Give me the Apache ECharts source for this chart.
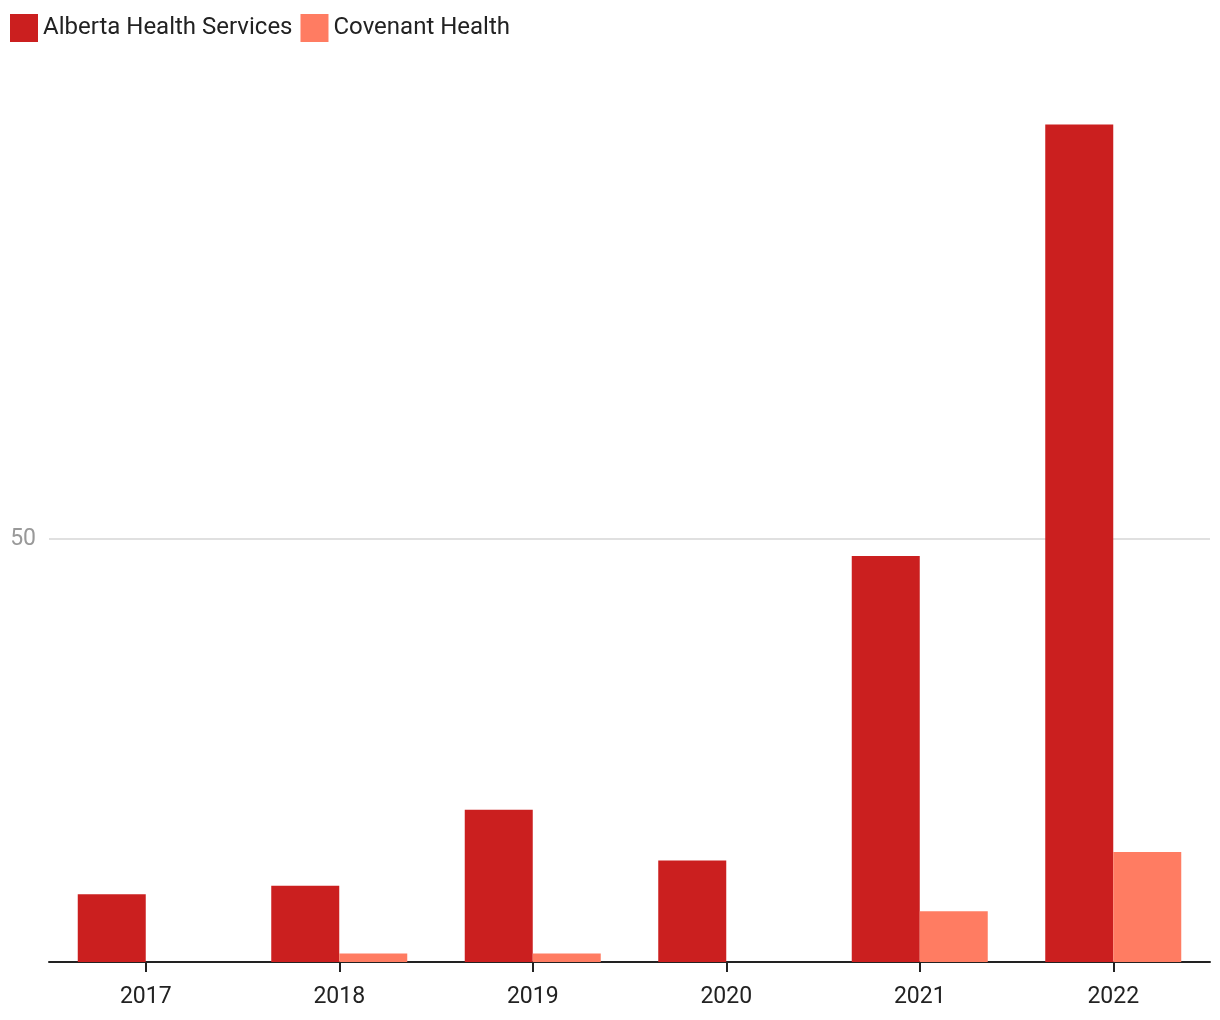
<!DOCTYPE html>
<html>
<head>
<meta charset="utf-8">
<script src="https://cdn.jsdelivr.net/npm/echarts@6/dist/echarts.min.js"></script>
<style>html,body{margin:0;padding:0;background:#fff}#c{width:1220px;height:1020px}</style>
</head>
<body>
<div id="c"></div>
<script>
const categories = ['2017', '2018', '2019', '2020', '2021', '2022'];
const seriesNames = ['Alberta Health Services', 'Covenant Health'];
const ahsValues = [8, 9, 18, 12, 48, 99];
const covenantValues = [0, 1, 1, 0, 6, 13];

const chart = echarts.init(document.getElementById('c'));
chart.setOption({
  animation: false,
  backgroundColor: '#fff',
  textStyle: { fontFamily: 'Roboto' },
  legend: {
    left: 5, top: 9,
    itemWidth: 28, itemHeight: 28, itemGap: 8, itemTextGap: 10,
    icon: 'rect',
    textStyle: { fontSize: 24, color: '#222', fontFamily: 'Roboto' },
    data: seriesNames
  },
  grid: { left: 49, right: 10, top: 116, bottom: 58, containLabel: false },
  xAxis: {
    type: 'category',
    data: categories,
    axisLine: { show: true, lineStyle: { color: '#222', width: 2 } },
    axisTick: { show: true, alignWithLabel: true, length: 10, lineStyle: { color: '#222', width: 2 } },
    axisLabel: { fontSize: 23, color: '#222', margin: 24, fontFamily: 'Roboto' }
  },
  yAxis: {
    type: 'value',
    min: 0, max: 100, interval: 50,
    axisLine: { show: false },
    axisTick: { show: false },
    axisLabel: { fontSize: 23, color: '#999', margin: 13, showMinLabel: false, showMaxLabel: false, fontFamily: 'Roboto' },
    splitLine: { showMinLine: false, showMaxLine: false, lineStyle: { color: '#e0e0e0', width: 2 } }
  },
  series: [
    { name: seriesNames[0], type: 'bar', data: ahsValues, barWidth: 68, barGap: '0%', itemStyle: { color: '#cb1f1f' } },
    { name: seriesNames[1], type: 'bar', data: covenantValues, barWidth: 68, barGap: '0%', itemStyle: { color: '#ff7c62' } }
  ]
});
</script>
</body>
</html>
